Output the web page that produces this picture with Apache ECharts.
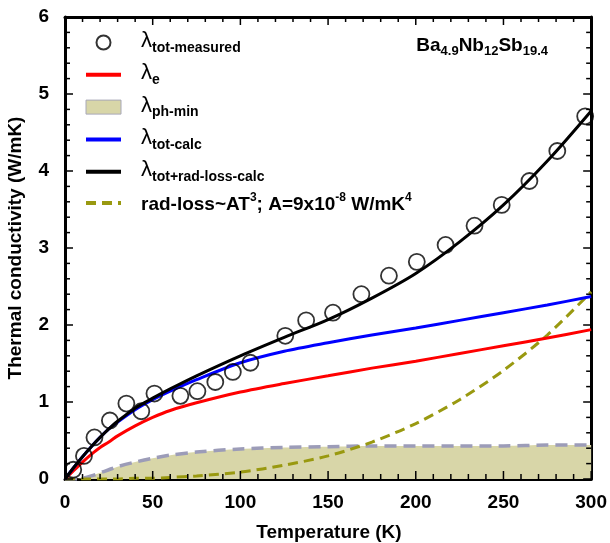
<!DOCTYPE html>
<html>
<head>
<meta charset="utf-8">
<script src="https://cdn.jsdelivr.net/npm/echarts@6/dist/echarts.min.js"></script>
<style>
  html, body { margin: 0; padding: 0; background: #fff; }
  #chart { width: 610px; height: 543px; }
</style>
</head>
<body>
<div id="chart"></div>
<script>
// measured points
var measT = [4.7, 10.8, 16.8, 25.6, 35, 43.5, 51, 65.8, 75.5, 85.7, 95.7, 105.7, 125.6, 137.5, 152.8, 169, 184.7, 200.6, 217, 233.5, 249, 264.8, 280.7, 296.6];
var measK = [0.12, 0.30, 0.54, 0.76, 0.98, 0.88, 1.11, 1.08, 1.14, 1.26, 1.39, 1.51, 1.86, 2.06, 2.16, 2.40, 2.64, 2.82, 3.04, 3.29, 3.56, 3.87, 4.26, 4.71];

// calculated curves
var curveT   = [0, 5, 10, 15, 20, 25, 30, 40, 50, 60, 75, 100, 125, 150, 175, 200, 225, 250, 275, 300];
var kElec    = [0, 0.11, 0.22, 0.32, 0.41, 0.48, 0.56, 0.69, 0.80, 0.89, 0.99, 1.13, 1.24, 1.34, 1.44, 1.53, 1.63, 1.73, 1.83, 1.94];
var kPhMin   = [0, 0, 0.01, 0.04, 0.08, 0.12, 0.16, 0.22, 0.27, 0.31, 0.35, 0.39, 0.41, 0.42, 0.43, 0.43, 0.43, 0.43, 0.44, 0.44];
var kTotCalc = [0, 0.15, 0.29, 0.42, 0.54, 0.65, 0.74, 0.90, 1.03, 1.14, 1.29, 1.51, 1.66, 1.77, 1.87, 1.96, 2.06, 2.16, 2.26, 2.37];
var kTotRad  = [0, 0.15, 0.29, 0.42, 0.54, 0.65, 0.75, 0.92, 1.05, 1.17, 1.34, 1.60, 1.84, 2.07, 2.35, 2.67, 3.08, 3.56, 4.13, 4.78];
var kRadLoss = [0, 0, 0, 0, 0, 0, 0, 0.01, 0.01, 0.02, 0.04, 0.09, 0.18, 0.30, 0.48, 0.72, 1.03, 1.41, 1.87, 2.43];

var xTicks = [0, 50, 100, 150, 200, 250, 300];
var yTicks = [0, 1, 2, 3, 4, 5, 6];
var xMinorStep = 10;
var yMinorStep = 0.2;

function pairs(xs, ys) {
    return xs.map(function (x, i) { return [x, ys[i]]; });
}

var FONT = "'Liberation Sans', Arial, sans-serif";

var legendText = {
    'meas': '{l|λ}{s|tot-measured}',
    'elec': '{l|λ}{s|e}',
    'ph': '{l|λ}{s|ph-min}',
    'calc': '{l|λ}{s|tot-calc}',
    'totrad': '{l|λ}{s|tot+rad-loss-calc}',
    'rad': '{t|rad-loss~AT}{p|3}{t|; A=9x10}{p|-8}{t| W/mK}{p|4}'
};

var myChart = echarts.init(document.getElementById('chart'));

// axis frame on all four sides; inward ticks are added as graphics afterwards
function frameAxis(extra) {
    var ax = {
        type: 'value',
        axisLine: { show: true, onZero: false, lineStyle: { color: '#000', width: 3 } },
        axisTick: { show: false },
        minorTick: { show: false },
        splitLine: { show: false }
    };
    for (var k in extra) ax[k] = extra[k];
    return ax;
}

var noSymbol = { color: 'transparent', borderColor: 'transparent', borderWidth: 0 };
var axisTitle = { fontSize: 19, fontWeight: 'bold', fontFamily: FONT, fill: '#000', align: 'center', verticalAlign: 'middle' };

var option = {
    animation: false,
    backgroundColor: '#fff',
    textStyle: { fontFamily: FONT },
    title: {
        text: '{b|Ba}{s|4.9}{b|Nb}{s|12}{b|Sb}{s|19.4}',
        right: 57,
        top: 31,
        textStyle: {
            rich: {
                b: { fontSize: 19, fontWeight: 'bold', fontFamily: FONT, color: '#000', verticalAlign: 'top', lineHeight: 20 },
                s: { fontSize: 13, fontWeight: 'bold', fontFamily: FONT, color: '#000', verticalAlign: 'top', padding: [9, 0, 0, 0] }
            }
        }
    },
    grid: { left: 65, right: 17, top: 17, bottom: 64 },
    legend: {
        orient: 'vertical',
        left: 79,
        top: 25,
        itemWidth: 35,
        itemHeight: 14,
        itemGap: 7.3,
        selectedMode: false,
        lineStyle: { width: 4 },
        formatter: function (name) { return legendText[name]; },
        textStyle: {
            padding: [0, 0, 0, 15],
            rich: {
                l: { fontSize: 22, fontFamily: FONT, color: '#000', verticalAlign: 'top', lineHeight: 22 },
                s: { fontSize: 14, fontWeight: 'bold', fontFamily: FONT, color: '#000', verticalAlign: 'top', padding: [11, 0, 0, 0] },
                t: { fontSize: 19, fontWeight: 'bold', fontFamily: FONT, color: '#000', verticalAlign: 'top', padding: [4, 0, 0, 0] },
                p: { fontSize: 12, fontWeight: 'bold', fontFamily: FONT, color: '#000', verticalAlign: 'top', padding: [0, 0, 0, 0] }
            }
        },
        data: [
            { name: 'meas', icon: 'circle', itemStyle: { color: 'transparent', borderColor: '#000', borderWidth: 2 } },
            { name: 'elec', itemStyle: noSymbol },
            { name: 'ph', icon: 'rect', itemStyle: { color: '#d8d6a8', borderColor: '#a8a8b8', borderWidth: 1 } },
            { name: 'calc', itemStyle: noSymbol },
            { name: 'totrad', itemStyle: noSymbol },
            { name: 'rad', itemStyle: noSymbol }
        ]
    },
    xAxis: [
        frameAxis({
            min: 0, max: 300, interval: 50,
            axisLabel: {
                margin: 14, fontSize: 19, fontWeight: 'bold', color: '#000', fontFamily: FONT,
                formatter: function (v) { return xTicks.indexOf(v) >= 0 ? String(v) : ''; }
            }
        }),
        frameAxis({
            min: 0, max: 300, interval: 50, position: 'top',
            axisLabel: { show: false }
        })
    ],
    yAxis: [
        frameAxis({
            min: 0, max: 6, interval: 1,
            axisLabel: {
                margin: 16, fontSize: 19, fontWeight: 'bold', color: '#000', fontFamily: FONT,
                formatter: function (v) { return yTicks.indexOf(v) >= 0 ? String(v) : ''; }
            }
        }),
        frameAxis({
            min: 0, max: 6, interval: 1, position: 'right',
            axisLabel: { show: false }
        })
    ],
    series: [
        {
            name: 'ph',
            type: 'line',
            smooth: 0.3,
            symbol: 'none',
            z: 1,
            lineStyle: { color: '#9c9cb8', width: 3.5, type: [12, 7] },
            itemStyle: { color: '#d8d6a8' },
            areaStyle: { color: '#d8d6a8', opacity: 1 },
            data: pairs(curveT, kPhMin)
        },
        {
            name: 'rad',
            type: 'line',
            smooth: 0.3,
            symbol: 'none',
            z: 2,
            lineStyle: { color: '#999910', width: 3, type: [10, 6] },
            itemStyle: { color: '#999910' },
            data: pairs(curveT, kRadLoss)
        },
        {
            name: 'elec',
            type: 'line',
            smooth: 0.3,
            symbol: 'none',
            z: 3,
            lineStyle: { color: '#ff0000', width: 3 },
            itemStyle: { color: '#ff0000' },
            data: pairs(curveT, kElec)
        },
        {
            name: 'calc',
            type: 'line',
            smooth: 0.3,
            symbol: 'none',
            z: 4,
            lineStyle: { color: '#0000ff', width: 3 },
            itemStyle: { color: '#0000ff' },
            data: pairs(curveT, kTotCalc)
        },
        {
            name: 'totrad',
            type: 'line',
            smooth: 0.3,
            symbol: 'none',
            z: 5,
            lineStyle: { color: '#000', width: 3 },
            itemStyle: { color: '#000' },
            data: pairs(curveT, kTotRad)
        },
        {
            name: 'meas',
            type: 'scatter',
            symbol: 'circle',
            symbolSize: 16,
            z: 6,
            itemStyle: { color: 'transparent', borderColor: '#000', borderWidth: 1.8 },
            data: pairs(measT, measK)
        }
    ]
};

myChart.setOption(option);

// axis titles and inward ticks on all four sides, placed through the chart's own scales
var graphics = [
    { type: 'text', x: 329, y: 533, z: 20, style: Object.assign({ text: 'Temperature (K)' }, axisTitle) },
    { type: 'text', x: 16, y: 248, z: 20, rotation: Math.PI / 2, style: Object.assign({ text: 'Thermal conductivity (W/mK)' }, axisTitle) }
];
function tickRect(x, y, w, h) {
    return { type: 'rect', z: 20, silent: true, shape: { x: x, y: y, width: w, height: h }, style: { fill: '#000' } };
}
for (var i = 0; i * xMinorStep <= 300; i++) {
    var tv = i * xMinorStep;
    var len = i % 5 === 0 ? 8 : 5;
    var pb = myChart.convertToPixel({ gridIndex: 0 }, [tv, 0]);
    var pt = myChart.convertToPixel({ gridIndex: 0 }, [tv, 6]);
    graphics.push(tickRect(pb[0] - 0.75, pb[1] - len, 1.5, len));
    graphics.push(tickRect(pt[0] - 0.75, pt[1], 1.5, len));
}
for (var j = 0; j * yMinorStep <= 6.001; j++) {
    var yv = Math.round(j * yMinorStep * 10) / 10;
    var ylen = j % 5 === 0 ? 8 : 5;
    var pl = myChart.convertToPixel({ gridIndex: 0 }, [0, yv]);
    var pr = myChart.convertToPixel({ gridIndex: 0 }, [300, yv]);
    graphics.push(tickRect(pl[0], pl[1] - 0.75, ylen, 1.5));
    graphics.push(tickRect(pr[0] - ylen, pr[1] - 0.75, ylen, 1.5));
}
myChart.setOption({ graphic: graphics });
</script>
</body>
</html>
